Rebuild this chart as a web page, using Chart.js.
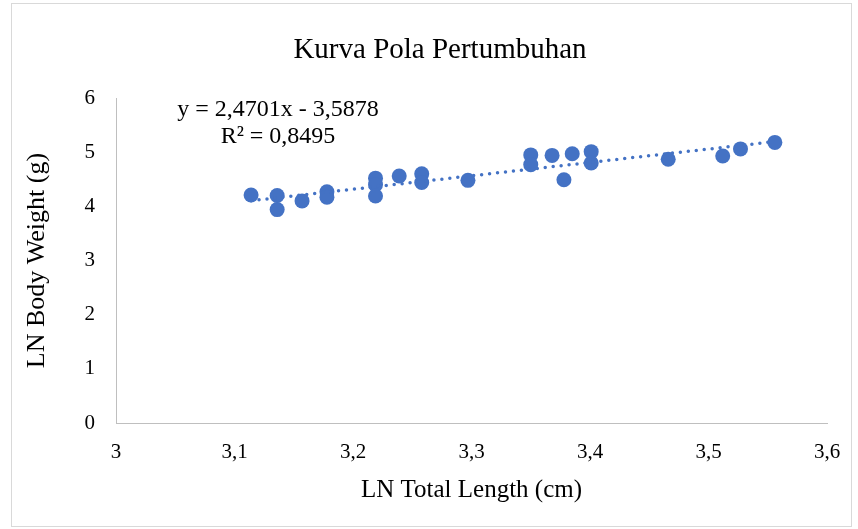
<!DOCTYPE html>
<html lang="id">
<head>
<meta charset="UTF-8">
<title>Kurva Pola Pertumbuhan</title>
<script src="https://cdn.jsdelivr.net/npm/chart.js"></script>
<style>
    body {
        margin: 0;
        background: #ffffff;
    }
    .frame {
        position: absolute;
        left: 11px;
        top: 3px;
        width: 839px;
        height: 522px;
        border: 1px solid #d9d9d9;
    }
    .wrap {
        position: absolute;
        left: 0;
        top: 0;
        width: 858px;
        height: 529px;
    }
</style>
</head>
<body>
<div class="frame"></div>
<div class="wrap"><canvas id="growthChart"></canvas></div>

<script>
    // data
    const lnLength = [3.114, 3.136, 3.136, 3.157, 3.178, 3.178, 3.219, 3.219, 3.219, 3.239, 3.258, 3.258,
        3.297, 3.350, 3.350, 3.368, 3.378, 3.385, 3.401, 3.401, 3.466, 3.512, 3.527, 3.556];
    const lnWeight = [4.21, 4.20, 3.94, 4.10, 4.27, 4.17, 4.52, 4.40, 4.19, 4.56, 4.60, 4.44,
        4.48, 4.95, 4.77, 4.94, 4.49, 4.97, 5.01, 4.80, 4.87, 4.93, 5.06, 5.18];

    // linear trendline endpoints (y = 2,4701x - 3,5878)
    const trendX = [3.114, 3.556];
    const trendY = [4.104, 5.196];

    const xTickValues = [3, 3.1, 3.2, 3.3, 3.4, 3.5, 3.6];
    const xTickLabels = ['3', '3,1', '3,2', '3,3', '3,4', '3,5', '3,6'];
    const yTickValues = [0, 1, 2, 3, 4, 5, 6];
    const yTickLabels = ['0', '1', '2', '3', '4', '5', '6'];

    const chartTitle = 'Kurva Pola Pertumbuhan';
    const equationLines = ['y = 2,4701x - 3,5878', 'R² = 0,8495'];

    const blue = '#4472C4';
    const serif = "'Liberation Serif', 'Times New Roman', serif";

    const points = lnLength.map((x, i) => ({ x: x, y: lnWeight[i] }));
    const trend = trendX.map((x, i) => ({ x: x, y: trendY[i] }));

    // title + trendline label drawn on the canvas
    const textPlugin = {
        id: 'textPlugin',
        afterDraw(chart) {
            const c = chart.ctx;
            c.save();
            c.fillStyle = '#000';
            c.textAlign = 'center';
            c.textBaseline = 'alphabetic';
            c.font = '29px ' + serif;
            c.fillText(chartTitle, 440, 58);
            c.font = '24px ' + serif;
            c.fillText(equationLines[0], 278, 116);
            c.fillText(equationLines[1], 278, 143);
            c.restore();
        }
    };

    new Chart(document.getElementById('growthChart'), {
        type: 'scatter',
        data: {
            datasets: [
                {
                    label: 'LN Body Weight',
                    data: points,
                    backgroundColor: blue,
                    borderColor: blue,
                    pointRadius: 7.5,
                    pointBorderWidth: 0,
                    order: 2
                },
                {
                    type: 'line',
                    label: 'Linear',
                    data: trend,
                    borderColor: blue,
                    borderWidth: 3.5,
                    borderDash: [0, 8],
                    borderCapStyle: 'round',
                    pointRadius: 0,
                    fill: false,
                    order: 1
                }
            ]
        },
        options: {
            responsive: true,
            maintainAspectRatio: false,
            animation: false,
            layout: {
                padding: { left: 0, right: 31, top: 98, bottom: 0 }
            },
            plugins: {
                legend: { display: false },
                tooltip: { enabled: false },
                title: { display: false }
            },
            scales: {
                x: {
                    type: 'linear',
                    min: 3,
                    max: 3.6,
                    afterBuildTicks: (scale) => {
                        scale.ticks = xTickValues.map(v => ({ value: v }));
                    },
                    afterFit: (scale) => { scale.height = 106; },
                    grid: { display: false, drawTicks: false },
                    border: { display: true, color: '#bfbfbf', width: 1 },
                    ticks: {
                        padding: 17,
                        color: '#000',
                        font: { family: serif, size: 21 },
                        maxRotation: 0,
                        callback: (v) => xTickLabels[xTickValues.findIndex(t => Math.abs(t - v) < 1e-6)]
                    },
                    title: {
                        display: true,
                        text: 'LN Total Length (cm)',
                        color: '#000',
                        font: { family: serif, size: 25 },
                        padding: { top: 0, bottom: 24 }
                    }
                },
                y: {
                    type: 'linear',
                    min: 0,
                    max: 6,
                    afterBuildTicks: (scale) => {
                        scale.ticks = yTickValues.map(v => ({ value: v }));
                    },
                    afterFit: (scale) => { scale.width = 116; },
                    grid: { display: false, drawTicks: false },
                    border: { display: true, color: '#bfbfbf', width: 1 },
                    ticks: {
                        padding: 21,
                        color: '#000',
                        font: { family: serif, size: 21 },
                        callback: (v) => yTickLabels[yTickValues.indexOf(v)]
                    },
                    title: {
                        display: true,
                        text: 'LN Body Weight (g)',
                        color: '#000',
                        font: { family: serif, size: 26 },
                        padding: { top: 22, bottom: 0 }
                    }
                }
            }
        },
        plugins: [textPlugin]
    });
</script>
</body>
</html>
